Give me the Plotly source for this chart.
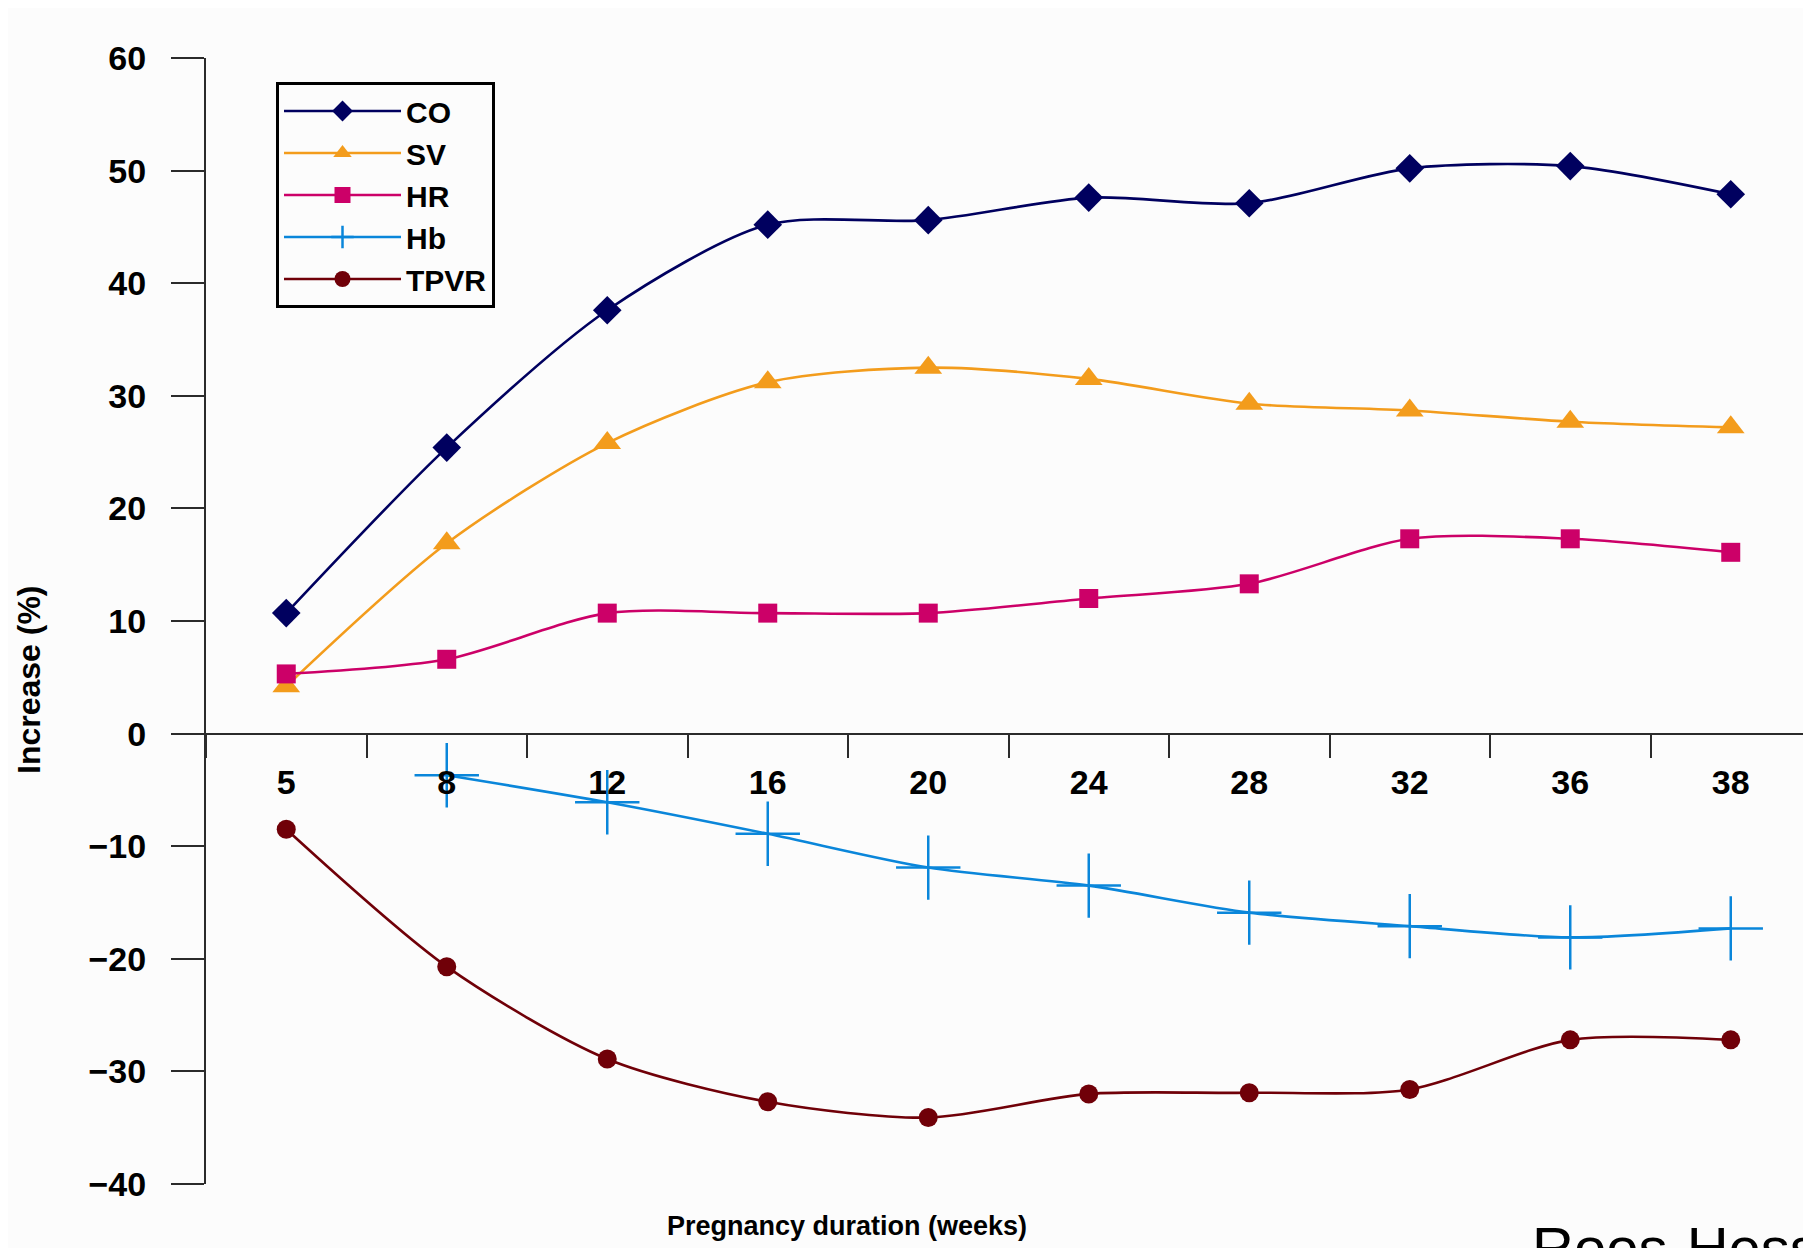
import plotly.graph_objects as go

weeks = ["5", "8", "12", "16", "20", "24", "28", "32", "36", "38"]
co = [10.7, 25.4, 37.6, 45.2, 45.6, 47.6, 47.1, 50.2, 50.4, 47.9]
sv = [4.2, 16.9, 25.8, 31.2, 32.5, 31.5, 29.3, 28.7, 27.7, 27.2]
hr = [5.3, 6.6, 10.7, 10.7, 10.7, 12.0, 13.3, 17.3, 17.3, 16.1]
hb_weeks = ["8", "12", "16", "20", "24", "28", "32", "36", "38"]
hb = [-3.7, -6.1, -8.9, -11.9, -13.5, -15.9, -17.1, -18.1, -17.3]
tpvr = [-8.5, -20.7, -28.9, -32.7, -34.1, -32.0, -31.9, -31.6, -27.2, -27.2]
y_ticks = [-40, -30, -20, -10, 0, 10, 20, 30, 40, 50, 60]

# page body has an 8px margin; work in screen pixels and shift
OFF = 8
W, H = 1811, 1248
L, R, T, B = 198, 8, 50, 72
pw, ph = W - L - R, H - T - B

def px_x(sx):
    return (sx - OFF - L) / pw

def px_y(sy):
    return (H - B - (sy - OFF)) / ph

FONT = "Liberation Sans, Arial, sans-serif"

series = [
    ("CO", weeks, co, "#00005f", "diamond", 22, None),
    ("SV", weeks, sv, "#f39c1c", "triangle-up", 24, None),
    ("HR", weeks, hr, "#cc0068", "square", 19, None),
    ("Hb", hb_weeks, hb, "#0a86da", "cross-thin", 46, 2.5),
    ("TPVR", weeks, tpvr, "#700008", "circle", 19, None),
]

fig = go.Figure()
for name, xs, ys, color, sym, size, lw in series:
    marker = dict(symbol=sym, size=size, color=color)
    if lw:
        marker["line"] = dict(color=color, width=lw)
    fig.add_trace(go.Scatter(
        x=xs, y=ys, name=name, mode="lines+markers",
        line=dict(color=color, width=2.6, shape="spline", smoothing=0.8),
        marker=marker,
    ))

fig.update_layout(
    width=W, height=H,
    margin=dict(l=L, r=R, t=T, b=B, autoexpand=False),
    paper_bgcolor="#fcfcfc", plot_bgcolor="#fcfcfc",
    font=dict(family=FONT, color="#000000"),
    showlegend=True,
    legend=dict(
        x=px_x(276), y=px_y(82), xanchor="left", yanchor="top",
        bordercolor="#000000", borderwidth=3, bgcolor="rgba(0,0,0,0)",
        font=dict(family=FONT, size=30, weight="bold", color="#000000"),
        itemwidth=117, tracegroupgap=0,
    ),
    xaxis=dict(
        type="category", categoryorder="array", categoryarray=weeks,
        range=[-0.5, 9.5], anchor="free", position=0.4,
        showline=True, linecolor="#2b2b2b", linewidth=2,
        ticks="outside", ticklen=23, tickwidth=2, tickcolor="#2b2b2b",
        tickson="boundaries", showgrid=False, zeroline=False,
        tickfont=dict(family=FONT, size=34, weight="bold", color="#000000"),
        ticklabelstandoff=19,
    ),
    yaxis=dict(
        range=[-40, 60], tickvals=y_ticks, showline=True,
        linecolor="#2b2b2b", linewidth=2, ticks="outside", ticklen=33,
        tickwidth=2, tickcolor="#2b2b2b", showgrid=False, zeroline=False,
        tickfont=dict(family=FONT, size=34, weight="bold", color="#000000"),
        ticklabelstandoff=18,
    ),
    annotations=[
        dict(text="Increase (%)", textangle=-90, x=px_x(29), y=px_y(680),
             xref="paper", yref="paper", xanchor="center", yanchor="middle",
             showarrow=False,
             font=dict(family="Liberation Sans Narrow, Arial Narrow, Liberation Sans",
                       size=32, weight="bold", color="#000000")),
        dict(text="Pregnancy duration (weeks)", x=px_x(847), y=px_y(1226),
             xref="paper", yref="paper", xanchor="center", yanchor="middle",
             showarrow=False,
             font=dict(family=FONT, size=27, weight="bold", color="#000000")),
        dict(text="Roos-Hesselink", x=px_x(1530), y=px_y(1213),
             xref="paper", yref="paper", xanchor="left", yanchor="top",
             showarrow=False,
             font=dict(family=FONT, size=58, color="#000000")),
    ],
)

fig.write_html("out.html")
